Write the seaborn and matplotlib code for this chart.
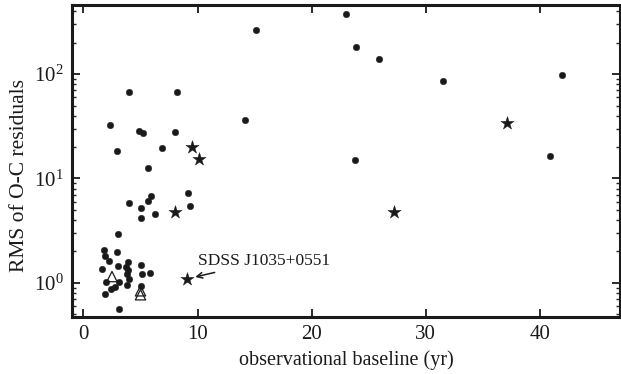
import matplotlib
matplotlib.use("Agg")
import matplotlib.pyplot as plt
import seaborn as sns
import pandas as pd
from matplotlib.ticker import LogLocator, NullFormatter, FixedLocator

# --- data ---
circle_x = [1.8, 2.9, 1.85, 2.2, 3.9, 5.0, 3.0, 3.75, 1.65, 3.9, 3.8, 5.1, 5.85,
            4.0, 1.95, 3.1, 3.8, 2.8, 2.4, 5.0, 1.85, 3.1, 3.0,
            4.0, 5.0, 5.7, 5.9, 6.3, 5.0, 9.2, 9.35, 5.65,
            4.0, 8.2, 2.3, 4.85, 5.25, 8.05, 2.9, 6.9, 14.15, 15.1,
            23.0, 23.9, 25.9, 31.5, 41.9, 23.8, 40.9]
circle_y = [2.08, 1.97, 1.82, 1.62, 1.57, 1.50, 1.45, 1.43, 1.35, 1.32, 1.21, 1.21, 1.24,
            1.09, 1.03, 1.03, 0.96, 0.92, 0.87, 0.93, 0.78, 0.565, 2.92,
            5.8, 5.25, 6.1, 6.8, 4.6, 4.2, 7.2, 5.4, 12.5,
            67.7, 66.8, 32.5, 28.3, 27.4, 28.0, 18.4, 19.5, 36.3, 263,
            372, 180, 139, 85, 99, 14.9, 16.3]
star_x = [9.5, 10.1, 8.0, 27.2, 37.1, 9.05]
star_y = [19.9, 15.3, 4.75, 4.78, 33.7, 1.08]
tri_x = [2.5, 5.0, 5.0]
tri_y = [1.15, 0.84, 0.77]

x_ticks = [0, 10, 20, 30, 40]
x_label = "observational baseline (yr)"
y_label = "RMS of O-C residuals"
annot_text = "SDSS J1035+0551"

df_c = pd.DataFrame({"x": circle_x, "y": circle_y})
df_s = pd.DataFrame({"x": star_x, "y": star_y})
df_t = pd.DataFrame({"x": tri_x, "y": tri_y})

sns.set_style("ticks")
plt.rcParams["font.family"] = ["Liberation Serif", "DejaVu Serif"]
plt.rcParams["mathtext.fontset"] = "stix"

fig = plt.figure(figsize=(6.21, 3.74), dpi=100)
ax = fig.add_axes([0.116, 0.152, 0.882, 0.835])

col = "#1a1a1a"
sns.scatterplot(data=df_c, x="x", y="y", ax=ax, marker="o", s=22, color=col,
                edgecolor=col, linewidth=0.3, zorder=3)
sns.scatterplot(data=df_s, x="x", y="y", ax=ax, marker="*", s=100, color=col,
                edgecolor=col, linewidth=0.3, zorder=3)
sns.scatterplot(data=df_t, x="x", y="y", ax=ax, marker="^", s=55, facecolor="none",
                edgecolor=col, linewidth=0.9, zorder=4)

ax.set_yscale("log")
ax.set_xlim(-1.0, 47.0)
ax.set_ylim(0.47, 460)

ax.xaxis.set_major_locator(FixedLocator(x_ticks))
ax.set_xticklabels([str(t) for t in x_ticks])
ax.yaxis.set_major_locator(LogLocator(base=10, numticks=10))
ax.yaxis.set_minor_locator(LogLocator(base=10, subs=range(2, 10), numticks=20))
ax.yaxis.set_minor_formatter(NullFormatter())

ax.tick_params(axis="both", which="major", direction="in", length=6, width=1.3,
               top=True, right=True, labelsize=15, colors=col, pad=6)
ax.tick_params(axis="y", which="minor", direction="in", length=3, width=1.0,
               left=True, right=True)
ax.tick_params(axis="x", which="minor", bottom=False, top=False)

for sp in ax.spines.values():
    sp.set_linewidth(2.2)
    sp.set_color(col)
    sp.set_visible(True)

ax.set_xlabel(x_label, fontsize=14.5, color=col, labelpad=4)
ax.set_ylabel(y_label, fontsize=15.5, color=col, labelpad=3)
ax.yaxis.set_label_coords(-0.079, 0.455)

ax.annotate(annot_text, xy=(9.85, 1.15), xytext=(10.05, 1.62),
            fontsize=12.5, color=col, va="center", ha="left")
ax.annotate("", xy=(9.8, 1.14), xytext=(11.5, 1.26),
            arrowprops=dict(arrowstyle="->", color=col, lw=1.1, shrinkA=0, shrinkB=0))

fig.savefig("out.png", dpi=100)
